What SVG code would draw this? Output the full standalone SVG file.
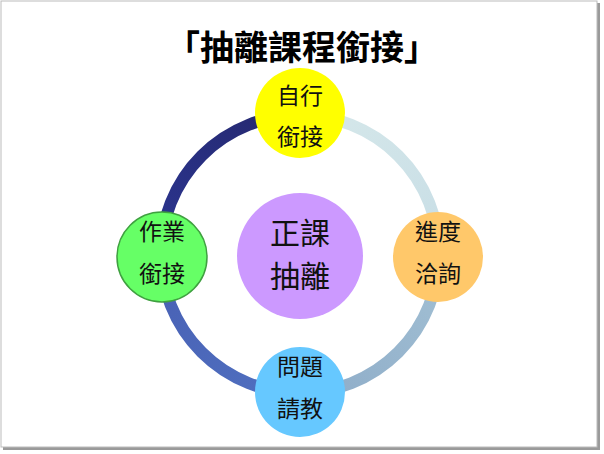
<svg xmlns="http://www.w3.org/2000/svg" width="604" height="454" viewBox="0 0 604 454">
<style>
.t{font-family:"Noto Sans CJK TC","Noto Sans CJK SC",sans-serif;font-size:23px;fill:#111;text-anchor:middle}
.c{font-family:"Noto Sans CJK TC","Noto Sans CJK SC",sans-serif;font-size:30px;fill:#111;text-anchor:middle}
.arc{fill:none;stroke-width:12}
</style>
<defs>
<linearGradient id="g1" x1="0" y1="1" x2="1" y2="0"><stop offset="0" stop-color="#2b3590"/><stop offset="1" stop-color="#25286e"/></linearGradient>
<linearGradient id="g2" x1="0" y1="0" x2="1" y2="1"><stop offset="0" stop-color="#d6e8ea"/><stop offset="1" stop-color="#c8dee6"/></linearGradient>
<linearGradient id="g3" x1="1" y1="0" x2="0" y2="1"><stop offset="0" stop-color="#a2c0d4"/><stop offset="1" stop-color="#8eacc8"/></linearGradient>
<linearGradient id="g4" x1="0" y1="0" x2="1" y2="1"><stop offset="0" stop-color="#4860b4"/><stop offset="1" stop-color="#5070c0"/></linearGradient>
</defs>
<rect x="0" y="0" width="604" height="454" fill="#fff"/>
<rect x="3" y="3" width="597" height="447" fill="#9a9a9a"/>
<rect x="1" y="1" width="596" height="446" fill="#fff" stroke="#bbb" stroke-width="1"/>
<text x="302" y="60" style="font-family:'Noto Sans CJK TC','Noto Sans CJK SC',sans-serif;font-size:34px;font-weight:bold;text-anchor:middle;fill:#000">「抽離課程銜接」</text>
<g id="connectors">
<path class="arc" stroke="url(#g1)" d="M300 115 A139 139 0 0 0 161 254"/>
<path class="arc" stroke="url(#g2)" d="M300 115 A139 139 0 0 1 439 254"/>
<path class="arc" stroke="url(#g3)" d="M439 254 A139 139 0 0 1 300 393"/>
<path class="arc" stroke="url(#g4)" d="M161 254 A139 139 0 0 0 300 393"/>
</g>
<g id="center"><circle cx="300" cy="256" r="63" fill="#cc99ff"/><text class="c" x="300" y="244">正課</text><text class="c" x="300" y="287">抽離</text></g>
<g id="top"><circle cx="300" cy="113" r="45" fill="#ffff00"/><text class="t" x="300" y="104">自行</text><text class="t" x="300" y="145">銜接</text></g>
<g id="right"><circle cx="438" cy="257" r="45" fill="#ffc86a"/><text class="t" x="438" y="240">進度</text><text class="t" x="438" y="282">洽詢</text></g>
<g id="bottom"><circle cx="300" cy="392" r="45" fill="#66c8ff"/><text class="t" x="300" y="375">問題</text><text class="t" x="300" y="417">請教</text></g>
<g id="left"><circle cx="162" cy="257" r="45" fill="#66ff66" stroke="#3fa040" stroke-width="1.5"/><text class="t" x="162" y="240">作業</text><text class="t" x="162" y="282">銜接</text></g>
</svg>
